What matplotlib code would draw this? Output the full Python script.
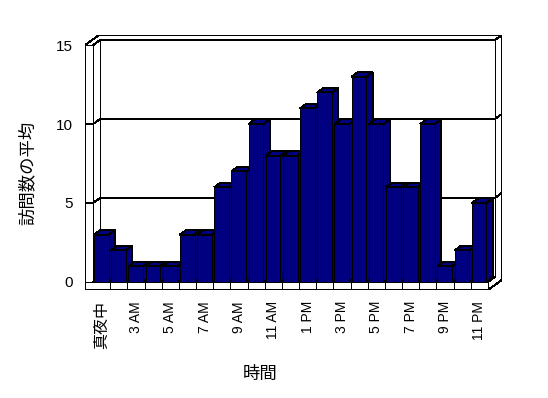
import matplotlib as mpl
import matplotlib.pyplot as plt
from matplotlib.patches import Polygon

mpl.rcParams.update({
    "font.family": ["Liberation Sans", "Noto Sans CJK JP"],
    "axes.unicode_minus": False,
})

# ===== DATA =====
hours = ["真夜中", "1 AM", "3 AM", "4 AM", "5 AM", "6 AM", "7 AM", "8 AM",
         "9 AM", "10 AM", "11 AM", "正午", "1 PM", "2 PM", "3 PM", "4 PM",
         "5 PM", "6 PM", "7 PM", "8 PM", "9 PM", "10 PM", "11 PM"]
visits = [3, 2, 1, 1, 1, 3, 3, 6, 7, 10, 8, 8,
          11, 12, 10, 13, 10, 6, 6, 10, 1, 2, 5]
y_ticks = [0, 5, 10, 15]
y_max = 15

# ===== 3D-ish geometry (data units) =====
N = len(visits)
DX, DY = 0.41, 0.32          # depth of floor / walls
WALL = 0.47                  # left wall thickness (x units)
FLOOR = 0.51                 # floor thickness (y units)
BAR_L, BAR_W = 0.44, 0.85    # bar front face offset / width
BDX, BDY = 0.37, 0.29        # bar depth
NAVY = "#000080"
LW = 0.72

W, H = 548, 398
fig = plt.figure(figsize=(W / 100, H / 100), dpi=100)
# front plane: slot edges 93..488 px, value 0 at 282 px, 15.8 px per unit
ax = fig.add_axes([85 / W, (H - 290) / H, (502 - 85) / W, (290 - 35) / H])
x0, x1 = -0.5, N - 0.5
ax.set_xlim(x0 - WALL, x1 + 2 * DX)
ax.set_ylim(-FLOOR, y_max + 2 * DY)
for s in ax.spines.values():
    s.set_visible(False)


def line(xs, ys, z=1):
    ax.plot(xs, ys, color="black", lw=LW, zorder=z, antialiased=False)


# outer silhouette (white)
outer = [(x0 - WALL, -FLOOR), (x0 - WALL, y_max), (x0 - WALL + 2 * DX, y_max + 2 * DY),
         (x1 + 2 * DX, y_max + 2 * DY), (x1 + 2 * DX, -FLOOR + 2 * DY),
         (x1, -FLOOR)]
ax.add_patch(Polygon(outer, closed=True, fc="white", ec="black", lw=LW,
                     zorder=0, antialiased=False))

# back wall inner face + gridlines
for v in y_ticks[1:-1]:
    line([x0 - WALL, x0, x0 + DX, x1 + DX, x1 + 2 * DX],
         [v, v, v + DY, v + DY, v + 2 * DY])
for v in (y_ticks[0], y_ticks[-1]):
    line([x0 - WALL, x0], [v, v])
line([x0, x0], [0, y_max])
line([x0 + DX, x0 + DX], [DY, y_max + DY])
line([x1 + DX, x1 + DX], [DY, y_max + DY])
line([x0, x0 + DX, x1 + DX, x1 + 2 * DX],
     [y_max, y_max + DY, y_max + DY, y_max + 2 * DY])
# floor
line([x0, x0 + DX, x1 + DX], [0, DY, DY])
line([x0, x1, x1 + DX], [0, 0, DY])
line([x1, x1], [-FLOOR, 0])
for k in range(1, N):
    line([x0 + k, x0 + k], [-FLOOR, 0])

# bars
for i, v in enumerate(visits):
    l = i - BAR_L
    r = l + BAR_W
    side = [(r, 0), (r + BDX, BDY), (r + BDX, v + BDY), (r, v)]
    top = [(l, v), (r, v), (r + BDX, v + BDY), (l + BDX, v + BDY)]
    front = [(l, 0), (r, 0), (r, v), (l, v)]
    for poly in (side, top, front):
        ax.add_patch(Polygon(poly, closed=True, fc=NAVY, ec="black", lw=LW,
                             zorder=3 + i * 0.01, antialiased=False))

# ticks
ax.set_yticks(y_ticks)
ax.set_yticklabels([str(t) for t in y_ticks], fontsize=11)
ax.tick_params(axis="y", length=0, pad=9)
ax.set_xticks(range(0, N, 2))
ax.set_xticklabels(hours[::2], rotation=90, fontsize=10, va="top", ha="center")
ax.tick_params(axis="x", length=0, pad=8)
ax.get_xticklabels()[0].set_fontsize(11.5)

fig.text(260 / W, 1 - 374 / H, "時間", fontsize=12.5, ha="center", va="center")
fig.text(27 / W, 1 - 173 / H, "訪問数の平均", fontsize=12.5, rotation=90,
         ha="center", va="center")

fig.savefig("out.png", dpi=100)
